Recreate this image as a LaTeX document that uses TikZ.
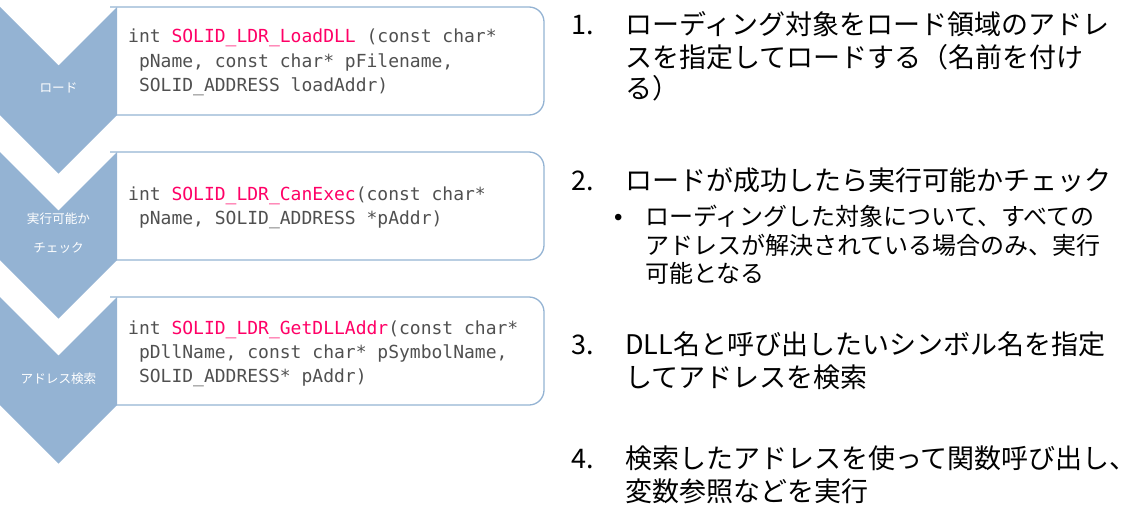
\documentclass[tikz,border=0pt]{standalone}
\usepackage{fontspec}
\setmainfont{Noto Sans CJK JP}
\newfontfamily\jpfont{Noto Sans CJK JP}
\newfontfamily\codefont{DejaVu Sans Mono}
\newfontfamily\bulletfont{Liberation Sans}
\definecolor{chev}{RGB}{148,179,211}
\definecolor{codegray}{RGB}{80,80,80}
\definecolor{fnred}{RGB}{255,0,102}
\newcommand{\fnname}[1]{\textcolor{fnred}{#1}}
\newcommand{\lead}{\phantom{i}}
\begin{document}
\begin{tikzpicture}[x=1pt,y=-1pt,
  chevron/.style={fill=chev, draw=none},
  codebox/.style={draw=chev, line width=1.3pt, rounded corners=15pt},
  chevlabel/.style={text=white, font=\jpfont\fontsize{12.6}{14}\selectfont, inner sep=0pt},
  code/.style={text=codegray, font=\codefont\fontsize{18}{24}\selectfont, anchor=base west, inner sep=0pt},
  num/.style={font=\jpfont\fontsize{27}{32}\selectfont, anchor=base west, inner sep=0pt},
  item/.style={font=\jpfont\fontsize{27}{32}\selectfont, anchor=base west, inner sep=0pt},
  subitem/.style={font=\jpfont\fontsize{24}{28}\selectfont, anchor=base west, inner sep=0pt}]
\useasboundingbox (0,0) rectangle (1147,527);

% code boxes
\draw[codebox] (110,7) -- (544,7) -- (544,115) -- (110,115);
\draw[codebox] (110,152) -- (544,152) -- (544,260) -- (110,260);
\draw[codebox] (110,297) -- (544,297) -- (544,405) -- (110,405);

% chevrons
\foreach \t in {7,152,297}{
  \fill[chevron] (0,\t) -- (58.5,\t+58.5) -- (117,\t) -- (117,\t+108) -- (58.5,\t+166.5) -- (0,\t+108) -- cycle;
}

% chevron labels
\node[chevlabel] (lab1) at (58.5,88) {ロード};
\node[chevlabel] (lab2a) at (58.5,219) {実行可能か};
\node[chevlabel] (lab2b) at (58.5,248) {チェック};
\node[chevlabel] (lab3) at (58.5,379) {アドレス検索};

% code texts
\node[code] (c1a) at (128,43) {int \fnname{SOLID\_LDR\_LoadDLL} (const char*};
\node[code] (c1b) at (128,67) {\lead pName, const char* pFilename,};
\node[code] (c1c) at (128,91) {\lead SOLID\_ADDRESS loadAddr)};

\node[code] (c2a) at (128,200) {int \fnname{SOLID\_LDR\_CanExec}(const char*};
\node[code] (c2b) at (128,224) {\lead pName, SOLID\_ADDRESS *pAddr)};

\node[code] (c3a) at (128,334) {int \fnname{SOLID\_LDR\_GetDLLAddr}(const char*};
\node[code] (c3b) at (128,358) {\lead pDllName, const char* pSymbolName,};
\node[code] (c3c) at (128,382) {\lead SOLID\_ADDRESS* pAddr)};

% right side list
\node[num] (n1) at (571,35) {1.};
\node[item] (i1a) at (625,35) {ローディング対象をロード領域のアドレ};
\node[item] (i1b) at (625,67) {スを指定してロードする（名前を付け};
\node[item] (i1c) at (625,98.5) {る）};

\node[num] (n2) at (571,190) {2.};
\node[item] (i2a) at (625,190) {ロードが成功したら実行可能かチェック};
\node[subitem, font=\bulletfont\fontsize{24}{28}\selectfont] (b2) at (614,225.5) {•};
\node[subitem] (s2a) at (645,225.5) {ローディングした対象について、すべての};
\node[subitem] (s2b) at (645,254) {アドレスが解決されている場合のみ、実行};
\node[subitem] (s2c) at (645,282.5) {可能となる};

\node[num] (n3) at (571,354.5) {3.};
\node[item] (i3a) at (625,354.5) {DLL名と呼び出したいシンボル名を指定};
\node[item] (i3b) at (625,387.5) {してアドレスを検索};

\node[num] (n4) at (571,468) {4.};
\node[item] (i4a) at (625,468) {検索したアドレスを使って関数呼び出し、};
\node[item] (i4b) at (625,501) {変数参照などを実行};
\end{tikzpicture}
\end{document}
